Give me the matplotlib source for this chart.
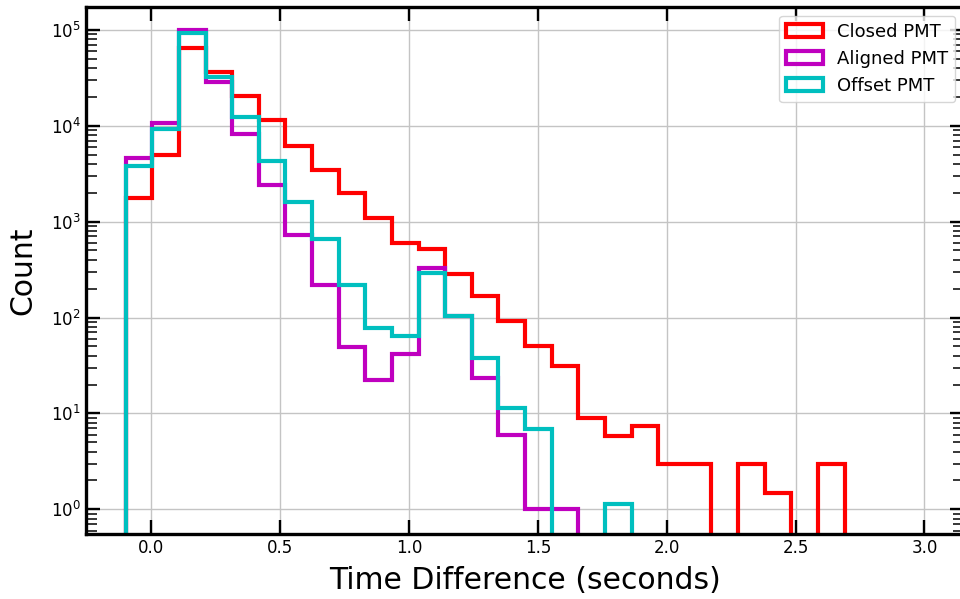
import numpy as np
import matplotlib
matplotlib.use("Agg")
import matplotlib.pyplot as plt

# bin edges of the time difference histogram (seconds)
bin_edges = np.linspace(-0.1, 3.0, 31)

# counts per bin
closed_pmt = [1750, 5000, 65000, 36500, 20400, 11400, 6200, 3440, 2000, 1080,
              605, 520, 284, 167, 92.5, 51, 31.5, 8.9, 5.85, 7.4,
              2.94, 2.94, 0, 2.94, 1.47, 0, 2.94, 0, 0, 0]
aligned_pmt = [4600, 10570, 99000, 28700, 8100, 2400, 724, 218, 49.6, 22.3,
               41.6, 325, 104, 23.2, 5.95, 1.0, 1.0, 0, 0, 0,
               0, 0, 0, 0, 0, 0, 0, 0, 0, 0]
offset_pmt = [3820, 9160, 91700, 32400, 12200, 4310, 1610, 653, 218, 78,
              64.6, 293, 104, 37.5, 11.5, 6.8, 0, 0, 1.13, 0,
              0, 0, 0, 0, 0, 0, 0, 0, 0, 0]

labels = ["Closed PMT", "Aligned PMT", "Offset PMT"]
colors = ["r", "m", "c"]

centers = 0.5 * (bin_edges[:-1] + bin_edges[1:])

fig = plt.figure(figsize=(9.6, 5.99), dpi=100)
# the original is cropped on the right, so the frame runs past the edge
ax = fig.add_axes([0.0893, 0.108, 0.9152, 0.8808])

for counts, lab, col in zip([closed_pmt, aligned_pmt, offset_pmt], labels, colors):
    ax.hist(centers, bins=bin_edges, weights=counts, histtype="step",
            linewidth=3, color=col, label=lab)

ax.set_yscale("log")
ax.set_xlim(-0.255, 3.155)
ax.set_ylim(0.549, 1.74e5)
ax.set_xticks(np.arange(0, 3.01, 0.5))

ax.grid(True, which="major", color="#c4c4c4", linewidth=1.0)
ax.set_axisbelow(True)

for s in ax.spines.values():
    s.set_linewidth(2.4)

ax.tick_params(which="both", direction="in", top=True, right=True)
ax.tick_params(which="major", length=10, width=1.7, labelsize=12)
ax.tick_params(which="minor", length=8, width=1.1)
ax.tick_params(axis="x", which="minor", bottom=False, top=False)

ax.set_xlabel("Time Difference (seconds)", fontsize=21.5, labelpad=6)
ax.set_ylabel("Count", fontsize=21.5, labelpad=10)

ax.legend(loc="upper right", fontsize=13)

fig.savefig("out.png", dpi=100)
